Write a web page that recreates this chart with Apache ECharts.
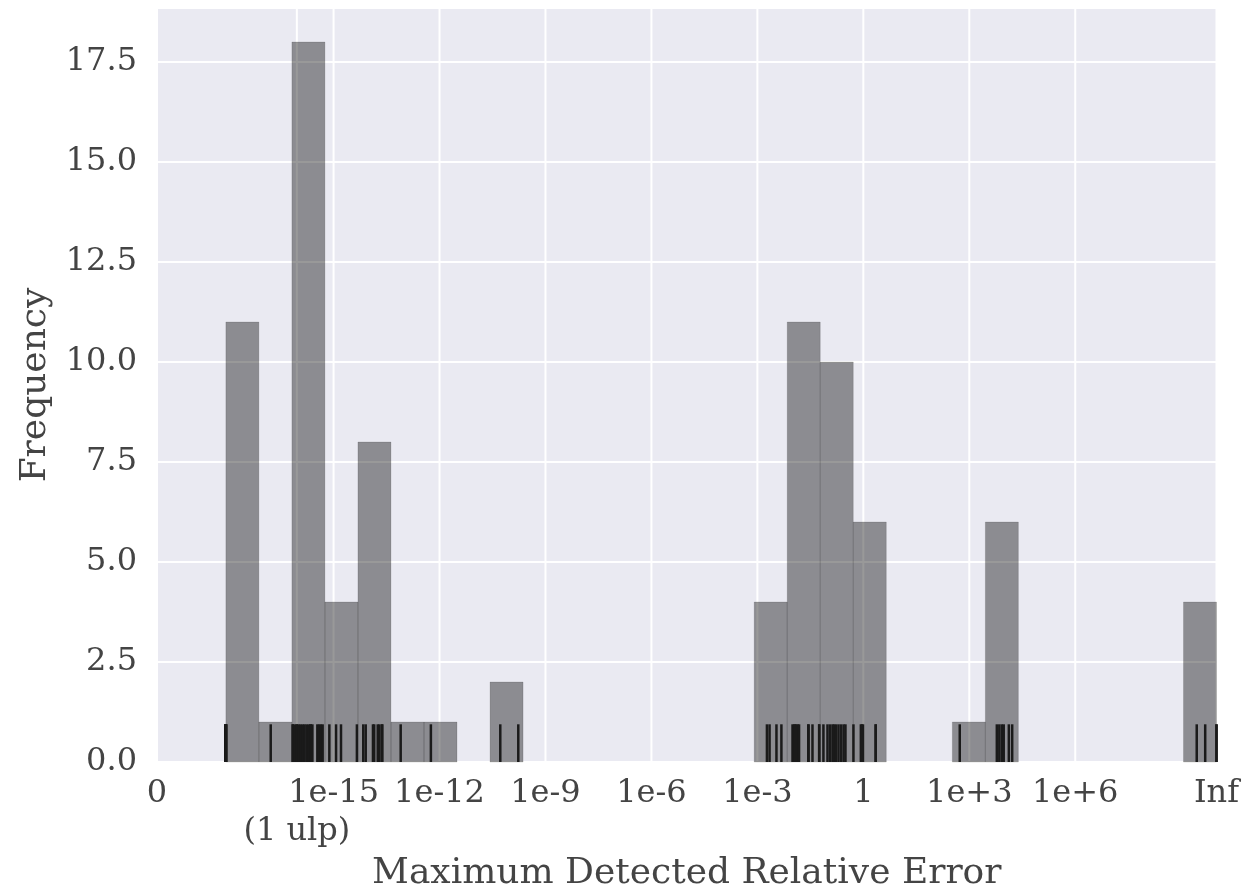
<!DOCTYPE html>
<html>
<head>
<meta charset="utf-8">
<script src="https://cdn.jsdelivr.net/npm/echarts@6/dist/echarts.min.js"></script>
<style>html,body{margin:0;padding:0;background:#fff;}#chart{width:1249px;height:891px;}</style>
</head>
<body>
<div id="chart"></div>
<script>
// x axis is log10 of the relative error; 0 is drawn at -20 and Inf at 10
const xMin = -20;
const xMax = 10;
const tickValues = [-20, -16.04, -15, -12, -9, -6, -3, 0, 3, 6, 10];
const tickLabels = ['0', '\n(1 ulp)', '1e-15', '1e-12', '1e-9', '1e-6', '1e-3', '1', '1e+3', '1e+6', 'Inf'];
// histogram: 30 bins
const binStart = -18.05;
const binCount = 30;
const counts = [11, 1, 18, 4, 8, 1, 1, 0, 2, 0, 0, 0, 0, 0, 0, 0, 4, 11, 10, 6, 0, 0, 1, 6, 0, 0, 0, 0, 0, 4];
// rug values (log10 of error)
const rugValues = [
  -18.05, -18.05, -18.05, -18.05, -18.05, -18.05, -18.05, -18.05, -18.05, -18.05, -18.05,
  -16.78,
  -16.155, -16.155, -16.10, -16.04, -16.04, -15.985, -15.93, -15.87, -15.82, -15.76, -15.70, -15.65, -15.65, -15.60, -15.46, -15.41, -15.36, -15.31,
  -15.12, -14.93, -14.79, -14.34,
  -14.16, -14.09, -13.885, -13.85, -13.75, -13.70, -13.625, -13.625,
  -13.10,
  -12.245,
  -10.28, -9.77,
  -2.73, -2.655, -2.46, -2.32,
  -2.005, -1.96, -1.935, -1.86, -1.82, -1.56, -1.55, -1.44, -1.25, -1.25, -1.90,
  -1.13, -1.015, -0.944, -0.873, -0.83, -0.775, -0.704, -0.633, -0.56, -0.506,
  -0.28, -0.07, -0.04, -0.01, 0.35, 0.35,
  2.73,
  3.78, 3.85, 3.92, 3.975, 4.12, 4.215,
  9.44, 9.68, 10, 10
];
const yMax = 18.85;
const yInterval = 2.5;

const binWidth = (xMax - binStart) / binCount;
const FONT = '"DejaVu Serif", serif';
const TXT = '#444444';
const FS = 32;
const NFS = 36;

const chart = echarts.init(document.getElementById('chart'), null, {renderer: 'canvas'});
chart.setOption({
  animation: false,
  grid: {left: 157, right: 32.5, top: 8, bottom: 129, show: true, backgroundColor: '#eaeaf2', borderWidth: 0,
    outerBoundsMode: 'none', containLabel: false},
  xAxis: {
    type: 'value', min: xMin, max: xMax,
    axisLine: {show: false}, axisTick: {show: false, customValues: tickValues},
    splitLine: {show: false},
    axisLabel: {
      customValues: tickValues,
      formatter: function (v) {
        let best = 0;
        for (let i = 0; i < tickValues.length; i++) {
          if (Math.abs(tickValues[i] - v) < Math.abs(tickValues[best] - v)) best = i;
        }
        return tickLabels[best];
      },
      fontFamily: FONT, fontSize: FS, color: TXT, margin: 13, lineHeight: 38
    },
    name: 'Maximum Detected Relative Error', nameLocation: 'middle', nameGap: 89,
    nameTextStyle: {fontFamily: FONT, fontSize: NFS, color: TXT}
  },
  yAxis: {
    type: 'value', min: 0, max: yMax, interval: yInterval,
    axisLine: {show: false}, axisTick: {show: false},
    splitLine: {show: true, lineStyle: {color: '#ffffff', width: 2}},
    axisLabel: {
      formatter: function (v) { return v.toFixed(1); },
      showMaxLabel: false,
      fontFamily: FONT, fontSize: FS, color: TXT, margin: 20
    },
    name: 'Frequency', nameLocation: 'middle', nameGap: 103, nameRotate: 90,
    nameTextStyle: {fontFamily: FONT, fontSize: NFS, color: TXT}
  },
  series: [
    {
      type: 'custom', z: 1, silent: true,
      data: tickValues.map(function (v) { return [v]; }),
      renderItem: function (params, api) {
        const p0 = api.coord([api.value(0), 0]);
        const p1 = api.coord([api.value(0), yMax]);
        return {type: 'line', shape: {x1: p0[0], y1: p0[1], x2: p1[0], y2: p1[1]},
          style: {stroke: '#ffffff', lineWidth: 2}};
      }
    },
    {
      type: 'custom', z: 3, silent: true,
      data: counts.map(function (c, i) { return [i, c]; }),
      renderItem: function (params, api) {
        const i = api.value(0), c = api.value(1);
        if (!c) return null;
        const x0 = binStart + i * binWidth, x1 = x0 + binWidth;
        const a = api.coord([x0, c]);
        const b = api.coord([x1, 0]);
        return {type: 'rect', shape: {x: a[0], y: a[1], width: b[0] - a[0], height: b[1] - a[1]},
          style: {fill: 'rgba(0,0,0,0.4)', stroke: 'rgba(0,0,0,0.12)', lineWidth: 1}};
      }
    },
    {
      type: 'custom', z: 4, silent: true,
      data: rugValues.map(function (v) { return [v]; }),
      renderItem: function (params, api) {
        const p0 = api.coord([api.value(0), 0]);
        const p1 = api.coord([api.value(0), yMax * 0.05]);
        return {type: 'line', shape: {x1: p0[0], y1: p0[1], x2: p1[0], y2: p1[1]},
          style: {stroke: '#1a1a1a', lineWidth: 2.5}};
      }
    }
  ]
});
</script>
</body>
</html>
